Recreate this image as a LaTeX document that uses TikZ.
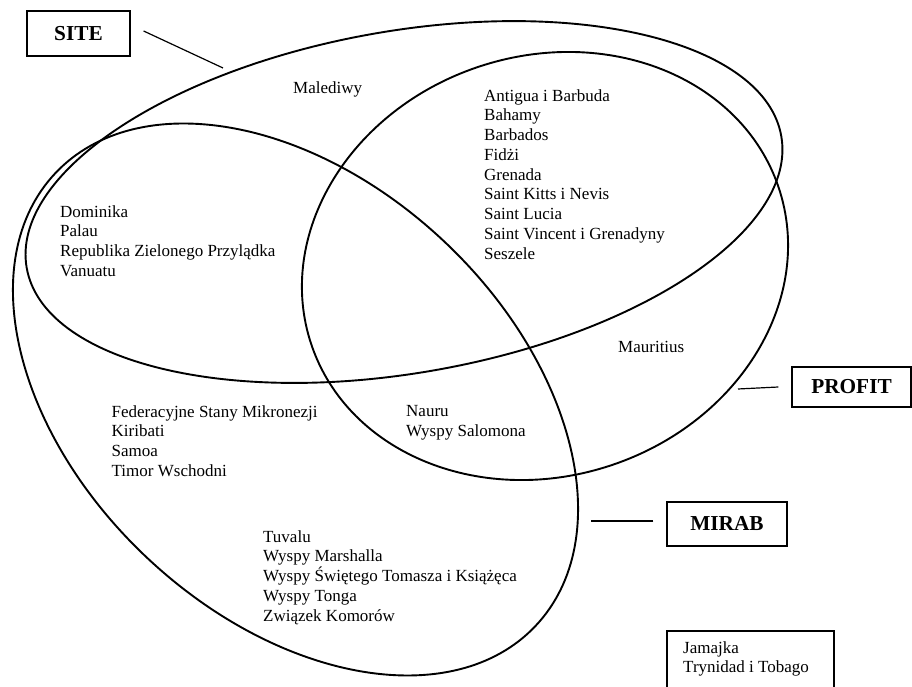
\documentclass[tikz,border=0pt]{standalone}
\usepackage{fontspec}
\setmainfont{Liberation Serif}
\tikzset{
  setline/.style={line width=1.9},
  labelbox/.style={draw,line width=1.2,inner sep=0,font=\fontsize{21.3}{25}\selectfont\bfseries},
  countries/.style={anchor=north west,inner sep=0,align=left,font=\fontsize{17}{19.75}\selectfont,execute at begin node=\strut}
}
\begin{document}
\begin{tikzpicture}[x=1pt,y=1pt]
	\useasboundingbox (0,0) rectangle (912,687);
	\clip (0,0) rectangle (912,687);
	\coordinate (SC) at (404,485);
	\coordinate (PC) at (545,421);
	\coordinate (MC) at (295.5,287.5);
	\draw[setline,rotate around={9.9:(SC)}] (SC) ellipse [x radius=383,y radius=171];
	\draw[setline,rotate around={18.6:(PC)}] (PC) ellipse [x radius=246.5,y radius=210];
	\draw[setline,rotate around={-43.3:(MC)}] (MC) ellipse [x radius=330,y radius=217];
	\node[labelbox,minimum width=103,minimum height=45] (site) at (78.5,653.5) {SITE};
	\node[labelbox,minimum width=119,minimum height=40] (profit) at (851.5,300) {PROFIT};
	\node[labelbox,minimum width=120,minimum height=44] (mirab) at (727,163) {MIRAB};
	\coordinate (S) at (223,619);
	\coordinate (P) at (738,298);
	\coordinate (M) at (591,166);
	\draw[line width=1.2] ([xshift=13]site.east) ++(0,2.5) to (S);
	\draw[line width=1.2] ([xshift=-13]profit.west) to (P);
	\draw[line width=1.2] ([xshift=-13]mirab.west) ++(0,3) to (M);
	\node[countries] (maldives) at (293,607.3) {Malediwy};
	\node[countries] (sitepro) at (484,597.8) {Antigua i Barbuda\\Bahamy\\Barbados\\Fidżi\\Grenada\\Saint Kitts i Nevis\\Saint Lucia\\Saint Vincent i Grenadyny\\Seszele};
	\node[countries] (sitemir) at (60,481.8) {Dominika\\Palau\\Republika Zielonego Przylądka\\Vanuatu};
	\node[countries] (profonly) at (618,348.5) {Mauritius};
	\node[countries] (mironly1) at (111.5,281.8) {Federacyjne Stany Mikronezji\\Kiribati\\Samoa\\Timor Wschodni};
	\node[countries] (promir) at (406,281.8) {Nauru\\Wyspy Salomona};
	\node[countries] (mironly2) at (263,156.8) {Tuvalu\\Wyspy Marshalla\\Wyspy Świętego Tomasza i Książęca\\Wyspy Tonga\\Związek Komorów};
	\node[countries] (others) at (683,45.8) {Jamajka\\Trynidad i Tobago};
	\draw[line width=1.2] (667,56) rectangle (834,-10);
\end{tikzpicture}
\end{document}
